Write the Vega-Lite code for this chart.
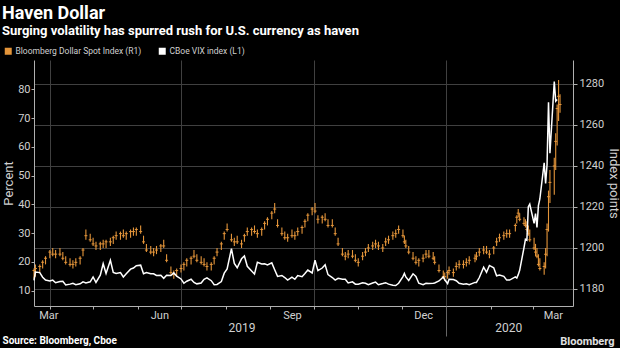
{
  "$schema": "https://vega.github.io/schema/vega-lite/v6.json",
  "width": 539,
  "height": 246,
  "autosize": "none",
  "padding": {"left": 34, "top": 60, "right": 47, "bottom": 42},
  "background": "#000000",
  "config": {
    "view": {"stroke": null},
    "font": "Roboto",
    "axis": {
      "labelFont": "Roboto",
      "titleFont": "Roboto",
      "labelColor": "#d0d0d0",
      "titleColor": "#d0d0d0",
      "domainColor": "#b0b0b0",
      "tickColor": "#b0b0b0",
      "gridColor": "#404040",
      "labelFlush": false,
      "labelOverlap": false,
      "labelFontSize": 11
    }
  },
  "title": {
    "text": "Haven Dollar",
    "subtitle": "Surging volatility has spurred rush for U.S. currency as haven",
    "anchor": "start",
    "frame": "group",
    "dx": -32,
    "offset": 9,
    "font": "Roboto",
    "fontSize": 18,
    "fontWeight": "bold",
    "color": "#ffffff",
    "subtitleFont": "Roboto",
    "subtitleFontSize": 13,
    "subtitleFontWeight": "bold",
    "subtitleColor": "#ffffff",
    "subtitlePadding": 2
  },
  "data": {
    "values": [
      {"d": "2019-03-21", "lo": 1185, "hi": 1190, "c": 1189, "v": 13.6},
      {"d": "2019-03-22", "lo": 1186, "hi": 1192, "c": 1190, "v": 16.5},
      {"d": "2019-03-25", "lo": 1188, "hi": 1192, "c": 1191, "v": 16.3},
      {"d": "2019-03-27", "lo": 1190, "hi": 1194, "c": 1193, "v": 14.7},
      {"d": "2019-03-29", "lo": 1192, "hi": 1196, "c": 1195, "v": 13.7},
      {"d": "2019-04-01", "lo": 1195, "hi": 1199, "c": 1198, "v": 13.4},
      {"d": "2019-04-03", "lo": 1196, "hi": 1200, "c": 1197, "v": 13.7},
      {"d": "2019-04-05", "lo": 1195, "hi": 1199, "c": 1197, "v": 12.8},
      {"d": "2019-04-08", "lo": 1196, "hi": 1200, "c": 1197, "v": 13.2},
      {"d": "2019-04-10", "lo": 1194, "hi": 1198, "c": 1195, "v": 13.3},
      {"d": "2019-04-12", "lo": 1192, "hi": 1196, "c": 1193, "v": 12.0},
      {"d": "2019-04-15", "lo": 1191, "hi": 1195, "c": 1192, "v": 12.3},
      {"d": "2019-04-17", "lo": 1190, "hi": 1194, "c": 1192, "v": 12.6},
      {"d": "2019-04-19", "lo": 1191, "hi": 1195, "c": 1193, "v": 12.1},
      {"d": "2019-04-22", "lo": 1192, "hi": 1196, "c": 1195, "v": 12.4},
      {"d": "2019-04-24", "lo": 1196, "hi": 1200, "c": 1199, "v": 13.1},
      {"d": "2019-04-26", "lo": 1204, "hi": 1209, "c": 1206, "v": 12.7},
      {"d": "2019-04-29", "lo": 1203, "hi": 1207, "c": 1204, "v": 13.1},
      {"d": "2019-05-01", "lo": 1201, "hi": 1205, "c": 1202, "v": 14.8},
      {"d": "2019-05-03", "lo": 1199, "hi": 1203, "c": 1201, "v": 12.9},
      {"d": "2019-05-06", "lo": 1199, "hi": 1203, "c": 1202, "v": 15.4},
      {"d": "2019-05-08", "lo": 1200, "hi": 1204, "c": 1202, "v": 19.4},
      {"d": "2019-05-10", "lo": 1200, "hi": 1204, "c": 1203, "v": 16.0},
      {"d": "2019-05-13", "lo": 1201, "hi": 1205, "c": 1203, "v": 20.6},
      {"d": "2019-05-15", "lo": 1202, "hi": 1206, "c": 1205, "v": 16.4},
      {"d": "2019-05-17", "lo": 1204, "hi": 1208, "c": 1206, "v": 16.0},
      {"d": "2019-05-20", "lo": 1204, "hi": 1208, "c": 1207, "v": 16.3},
      {"d": "2019-05-22", "lo": 1205, "hi": 1209, "c": 1206, "v": 14.8},
      {"d": "2019-05-24", "lo": 1204, "hi": 1208, "c": 1207, "v": 15.9},
      {"d": "2019-05-27", "lo": 1205, "hi": 1209, "c": 1208, "v": 17.5},
      {"d": "2019-05-29", "lo": 1206, "hi": 1210, "c": 1208, "v": 17.9},
      {"d": "2019-05-31", "lo": 1206, "hi": 1210, "c": 1209, "v": 18.7},
      {"d": "2019-06-03", "lo": 1207, "hi": 1211, "c": 1208, "v": 18.9},
      {"d": "2019-06-05", "lo": 1202, "hi": 1206, "c": 1203, "v": 15.9},
      {"d": "2019-06-07", "lo": 1198, "hi": 1202, "c": 1199, "v": 16.3},
      {"d": "2019-06-10", "lo": 1197, "hi": 1201, "c": 1198, "v": 15.9},
      {"d": "2019-06-12", "lo": 1196, "hi": 1200, "c": 1198, "v": 15.9},
      {"d": "2019-06-14", "lo": 1197, "hi": 1201, "c": 1199, "v": 15.3},
      {"d": "2019-06-17", "lo": 1198, "hi": 1202, "c": 1201, "v": 15.4},
      {"d": "2019-06-19", "lo": 1200, "hi": 1204, "c": 1201, "v": 14.3},
      {"d": "2019-06-21", "lo": 1193, "hi": 1197, "c": 1194, "v": 15.4},
      {"d": "2019-06-24", "lo": 1187, "hi": 1191, "c": 1188, "v": 15.3},
      {"d": "2019-06-26", "lo": 1185, "hi": 1189, "c": 1187, "v": 16.2},
      {"d": "2019-06-28", "lo": 1186, "hi": 1190, "c": 1189, "v": 15.1},
      {"d": "2019-07-01", "lo": 1188, "hi": 1192, "c": 1190, "v": 14.1},
      {"d": "2019-07-03", "lo": 1189, "hi": 1193, "c": 1192, "v": 12.6},
      {"d": "2019-07-05", "lo": 1191, "hi": 1195, "c": 1194, "v": 13.3},
      {"d": "2019-07-08", "lo": 1192, "hi": 1196, "c": 1195, "v": 14.0},
      {"d": "2019-07-10", "lo": 1195, "hi": 1199, "c": 1196, "v": 12.9},
      {"d": "2019-07-12", "lo": 1193, "hi": 1197, "c": 1194, "v": 12.4},
      {"d": "2019-07-15", "lo": 1192, "hi": 1196, "c": 1193, "v": 12.7},
      {"d": "2019-07-17", "lo": 1191, "hi": 1195, "c": 1192, "v": 14.0},
      {"d": "2019-07-19", "lo": 1189, "hi": 1193, "c": 1191, "v": 14.5},
      {"d": "2019-07-22", "lo": 1189, "hi": 1193, "c": 1192, "v": 13.5},
      {"d": "2019-07-24", "lo": 1192, "hi": 1196, "c": 1195, "v": 12.1},
      {"d": "2019-07-26", "lo": 1196, "hi": 1200, "c": 1198, "v": 12.2},
      {"d": "2019-07-29", "lo": 1199, "hi": 1203, "c": 1202, "v": 13.2},
      {"d": "2019-07-31", "lo": 1204, "hi": 1208, "c": 1207, "v": 16.1},
      {"d": "2019-08-02", "lo": 1208, "hi": 1212, "c": 1209, "v": 17.6},
      {"d": "2019-08-05", "lo": 1203, "hi": 1207, "c": 1204, "v": 24.6},
      {"d": "2019-08-07", "lo": 1201, "hi": 1205, "c": 1203, "v": 19.5},
      {"d": "2019-08-09", "lo": 1202, "hi": 1206, "c": 1203, "v": 18.0},
      {"d": "2019-08-12", "lo": 1200, "hi": 1204, "c": 1202, "v": 21.1},
      {"d": "2019-08-14", "lo": 1203, "hi": 1207, "c": 1206, "v": 22.1},
      {"d": "2019-08-16", "lo": 1206, "hi": 1210, "c": 1208, "v": 18.5},
      {"d": "2019-08-19", "lo": 1206, "hi": 1210, "c": 1209, "v": 16.9},
      {"d": "2019-08-21", "lo": 1207, "hi": 1211, "c": 1208, "v": 15.8},
      {"d": "2019-08-23", "lo": 1205, "hi": 1209, "c": 1207, "v": 19.9},
      {"d": "2019-08-26", "lo": 1206, "hi": 1210, "c": 1209, "v": 19.3},
      {"d": "2019-08-28", "lo": 1209, "hi": 1213, "c": 1212, "v": 19.4},
      {"d": "2019-08-30", "lo": 1211, "hi": 1215, "c": 1214, "v": 19.0},
      {"d": "2019-09-02", "lo": 1214, "hi": 1218, "c": 1217, "v": 19.7},
      {"d": "2019-09-04", "lo": 1217, "hi": 1222, "c": 1219, "v": 17.3},
      {"d": "2019-09-06", "lo": 1210, "hi": 1214, "c": 1211, "v": 15.0},
      {"d": "2019-09-09", "lo": 1206, "hi": 1210, "c": 1207, "v": 15.3},
      {"d": "2019-09-11", "lo": 1204, "hi": 1208, "c": 1205, "v": 14.6},
      {"d": "2019-09-13", "lo": 1203, "hi": 1207, "c": 1205, "v": 13.7},
      {"d": "2019-09-16", "lo": 1205, "hi": 1209, "c": 1206, "v": 14.7},
      {"d": "2019-09-18", "lo": 1204, "hi": 1208, "c": 1206, "v": 14.0},
      {"d": "2019-09-20", "lo": 1206, "hi": 1210, "c": 1208, "v": 15.3},
      {"d": "2019-09-23", "lo": 1207, "hi": 1211, "c": 1210, "v": 14.9},
      {"d": "2019-09-25", "lo": 1210, "hi": 1214, "c": 1213, "v": 16.0},
      {"d": "2019-09-27", "lo": 1213, "hi": 1217, "c": 1216, "v": 17.2},
      {"d": "2019-09-30", "lo": 1216, "hi": 1220, "c": 1219, "v": 16.2},
      {"d": "2019-10-02", "lo": 1217, "hi": 1222, "c": 1218, "v": 20.6},
      {"d": "2019-10-04", "lo": 1212, "hi": 1216, "c": 1214, "v": 17.0},
      {"d": "2019-10-07", "lo": 1212, "hi": 1216, "c": 1215, "v": 17.9},
      {"d": "2019-10-09", "lo": 1213, "hi": 1217, "c": 1214, "v": 19.0},
      {"d": "2019-10-11", "lo": 1210, "hi": 1214, "c": 1211, "v": 15.6},
      {"d": "2019-10-14", "lo": 1210, "hi": 1214, "c": 1211, "v": 14.6},
      {"d": "2019-10-16", "lo": 1206, "hi": 1210, "c": 1207, "v": 13.7},
      {"d": "2019-10-18", "lo": 1201, "hi": 1205, "c": 1202, "v": 14.3},
      {"d": "2019-10-21", "lo": 1196, "hi": 1200, "c": 1197, "v": 14.0},
      {"d": "2019-10-23", "lo": 1194, "hi": 1198, "c": 1196, "v": 14.0},
      {"d": "2019-10-25", "lo": 1195, "hi": 1199, "c": 1197, "v": 12.7},
      {"d": "2019-10-28", "lo": 1195, "hi": 1199, "c": 1196, "v": 13.1},
      {"d": "2019-10-30", "lo": 1193, "hi": 1197, "c": 1194, "v": 12.3},
      {"d": "2019-11-01", "lo": 1191, "hi": 1195, "c": 1193, "v": 12.3},
      {"d": "2019-11-04", "lo": 1194, "hi": 1198, "c": 1196, "v": 12.8},
      {"d": "2019-11-06", "lo": 1196, "hi": 1200, "c": 1198, "v": 12.6},
      {"d": "2019-11-08", "lo": 1198, "hi": 1202, "c": 1200, "v": 12.1},
      {"d": "2019-11-11", "lo": 1199, "hi": 1203, "c": 1201, "v": 12.7},
      {"d": "2019-11-13", "lo": 1200, "hi": 1204, "c": 1202, "v": 13.0},
      {"d": "2019-11-15", "lo": 1199, "hi": 1203, "c": 1201, "v": 12.1},
      {"d": "2019-11-18", "lo": 1198, "hi": 1202, "c": 1200, "v": 12.5},
      {"d": "2019-11-20", "lo": 1201, "hi": 1205, "c": 1203, "v": 12.8},
      {"d": "2019-11-22", "lo": 1202, "hi": 1206, "c": 1204, "v": 12.3},
      {"d": "2019-11-25", "lo": 1204, "hi": 1208, "c": 1206, "v": 11.9},
      {"d": "2019-11-27", "lo": 1205, "hi": 1209, "c": 1207, "v": 11.8},
      {"d": "2019-11-29", "lo": 1207, "hi": 1211, "c": 1209, "v": 12.6},
      {"d": "2019-12-02", "lo": 1205, "hi": 1209, "c": 1206, "v": 14.9},
      {"d": "2019-12-03", "lo": 1202, "hi": 1206, "c": 1203, "v": 16.0},
      {"d": "2019-12-04", "lo": 1200, "hi": 1204, "c": 1201, "v": 14.8},
      {"d": "2019-12-06", "lo": 1197, "hi": 1201, "c": 1198, "v": 13.6},
      {"d": "2019-12-09", "lo": 1194, "hi": 1198, "c": 1195, "v": 15.9},
      {"d": "2019-12-11", "lo": 1192, "hi": 1196, "c": 1193, "v": 15.0},
      {"d": "2019-12-13", "lo": 1191, "hi": 1195, "c": 1194, "v": 12.6},
      {"d": "2019-12-16", "lo": 1193, "hi": 1197, "c": 1195, "v": 12.1},
      {"d": "2019-12-18", "lo": 1195, "hi": 1199, "c": 1197, "v": 12.6},
      {"d": "2019-12-20", "lo": 1195, "hi": 1199, "c": 1196, "v": 12.5},
      {"d": "2019-12-23", "lo": 1194, "hi": 1198, "c": 1195, "v": 12.6},
      {"d": "2019-12-24", "lo": 1192, "hi": 1196, "c": 1193, "v": 12.7},
      {"d": "2019-12-27", "lo": 1188, "hi": 1192, "c": 1189, "v": 13.4},
      {"d": "2019-12-30", "lo": 1185, "hi": 1189, "c": 1186, "v": 14.8},
      {"d": "2019-12-31", "lo": 1184, "hi": 1188, "c": 1186, "v": 13.8},
      {"d": "2020-01-02", "lo": 1185, "hi": 1189, "c": 1188, "v": 12.5},
      {"d": "2020-01-03", "lo": 1187, "hi": 1191, "c": 1189, "v": 14.0},
      {"d": "2020-01-06", "lo": 1186, "hi": 1190, "c": 1188, "v": 13.9},
      {"d": "2020-01-08", "lo": 1189, "hi": 1193, "c": 1191, "v": 13.5},
      {"d": "2020-01-10", "lo": 1190, "hi": 1194, "c": 1192, "v": 12.6},
      {"d": "2020-01-13", "lo": 1190, "hi": 1194, "c": 1192, "v": 12.3},
      {"d": "2020-01-15", "lo": 1191, "hi": 1195, "c": 1193, "v": 12.4},
      {"d": "2020-01-17", "lo": 1192, "hi": 1196, "c": 1194, "v": 12.1},
      {"d": "2020-01-21", "lo": 1193, "hi": 1197, "c": 1195, "v": 12.9},
      {"d": "2020-01-22", "lo": 1194, "hi": 1198, "c": 1196, "v": 12.9},
      {"d": "2020-01-24", "lo": 1196, "hi": 1200, "c": 1198, "v": 14.6},
      {"d": "2020-01-27", "lo": 1197, "hi": 1201, "c": 1199, "v": 18.2},
      {"d": "2020-01-29", "lo": 1197, "hi": 1201, "c": 1198, "v": 16.4},
      {"d": "2020-01-31", "lo": 1195, "hi": 1199, "c": 1197, "v": 18.8},
      {"d": "2020-02-03", "lo": 1197, "hi": 1201, "c": 1200, "v": 18.0},
      {"d": "2020-02-05", "lo": 1201, "hi": 1205, "c": 1203, "v": 15.2},
      {"d": "2020-02-07", "lo": 1203, "hi": 1207, "c": 1205, "v": 15.5},
      {"d": "2020-02-10", "lo": 1204, "hi": 1208, "c": 1206, "v": 15.0},
      {"d": "2020-02-12", "lo": 1205, "hi": 1209, "c": 1207, "v": 13.7},
      {"d": "2020-02-14", "lo": 1205, "hi": 1209, "c": 1207, "v": 13.7},
      {"d": "2020-02-18", "lo": 1208, "hi": 1212, "c": 1211, "v": 14.8},
      {"d": "2020-02-19", "lo": 1212, "hi": 1216, "c": 1215, "v": 14.4},
      {"d": "2020-02-20", "lo": 1215, "hi": 1219, "c": 1217, "v": 15.6},
      {"d": "2020-02-21", "lo": 1213, "hi": 1217, "c": 1214, "v": 17.1},
      {"d": "2020-02-24", "lo": 1211, "hi": 1215, "c": 1212, "v": 25.0},
      {"d": "2020-02-25", "lo": 1210, "hi": 1214, "c": 1211, "v": 27.9},
      {"d": "2020-02-26", "lo": 1208, "hi": 1213, "c": 1209, "v": 27.6},
      {"d": "2020-02-27", "lo": 1206, "hi": 1211, "c": 1207, "v": 39.2},
      {"d": "2020-02-28", "lo": 1203, "hi": 1209, "c": 1204, "v": 40.1},
      {"d": "2020-03-02", "lo": 1199, "hi": 1205, "c": 1200, "v": 33.4},
      {"d": "2020-03-03", "lo": 1196, "hi": 1202, "c": 1198, "v": 36.8},
      {"d": "2020-03-04", "lo": 1195, "hi": 1200, "c": 1196, "v": 32.0},
      {"d": "2020-03-05", "lo": 1191, "hi": 1197, "c": 1192, "v": 39.6},
      {"d": "2020-03-06", "lo": 1189, "hi": 1195, "c": 1190, "v": 41.9},
      {"d": "2020-03-09", "lo": 1187, "hi": 1193, "c": 1191, "v": 54.5},
      {"d": "2020-03-10", "lo": 1190, "hi": 1200, "c": 1197, "v": 47.3},
      {"d": "2020-03-11", "lo": 1196, "hi": 1212, "c": 1209, "v": 53.9},
      {"d": "2020-03-12", "lo": 1208, "hi": 1228, "c": 1225, "v": 75.5},
      {"d": "2020-03-13", "lo": 1222, "hi": 1238, "c": 1232, "v": 57.8},
      {"d": "2020-03-16", "lo": 1226, "hi": 1244, "c": 1240, "v": 82.7},
      {"d": "2020-03-17", "lo": 1238, "hi": 1256, "c": 1252, "v": 75.9},
      {"d": "2020-03-18", "lo": 1250, "hi": 1270, "c": 1268, "v": 76.5},
      {"d": "2020-03-19", "lo": 1262, "hi": 1282, "c": 1274, "v": null},
      {"d": "2020-03-20", "lo": 1266, "hi": 1275, "c": 1270, "v": null}
    ]
  },
  "layer": [
    {
      "layer": [
        {
          "mark": {"type": "rule", "strokeWidth": 1.1},
          "encoding": {
            "x": {
              "field": "d",
              "type": "temporal",
              "scale": {
                "type": "utc",
                "domain": [
                  {"year": 2019, "month": 3, "date": 21, "utc": true},
                  {"year": 2020, "month": 3, "date": 29, "utc": true}
                ]
              },
              "axis": {
                "orient": "bottom",
                "title": null,
                "labels": false,
                "grid": false,
                "ticks": true,
                "tickSize": 3,
                "domain": true,
                "values": [
                  {"year": 2019, "month": 4, "date": 1, "utc": true},
                  {"year": 2019, "month": 5, "date": 1, "utc": true},
                  {"year": 2019, "month": 6, "date": 1, "utc": true},
                  {"year": 2019, "month": 7, "date": 1, "utc": true},
                  {"year": 2019, "month": 8, "date": 1, "utc": true},
                  {"year": 2019, "month": 9, "date": 1, "utc": true},
                  {"year": 2019, "month": 10, "date": 1, "utc": true},
                  {"year": 2019, "month": 11, "date": 1, "utc": true},
                  {"year": 2019, "month": 12, "date": 1, "utc": true},
                  {"year": 2020, "month": 1, "date": 1, "utc": true},
                  {"year": 2020, "month": 2, "date": 1, "utc": true},
                  {"year": 2020, "month": 3, "date": 1, "utc": true}
                ]
              }
            },
            "y": {
              "field": "lo",
              "type": "quantitative",
              "title": "Index points",
              "scale": {"domain": [1171.7, 1291.7], "nice": false, "zero": false},
              "axis": {
                "orient": "right",
                "values": [1180, 1200, 1220, 1240, 1260, 1280],
                "format": "d",
                "grid": true,
                "tickSize": 4,
                "labelPadding": 2,
                "title": "Index points",
                "titleAngle": 90,
                "titleX": 40,
                "titleY": 123,
                "titleAlign": "center",
                "titleBaseline": "middle",
                "titleFontSize": 13,
                "titleFontWeight": "normal"
              }
            },
            "y2": {"field": "hi"},
            "color": {
              "datum": "Bloomberg Dollar Spot Index (R1)",
              "type": "nominal",
              "scale": {
                "domain": ["Bloomberg Dollar Spot Index (R1)", "CBoe VIX index (L1)"],
                "range": ["#e4953a", "#ffffff"]
              },
              "legend": {
                "orient": "none",
                "legendX": -30,
                "legendY": -13,
                "direction": "horizontal",
                "title": null,
                "symbolType": "square",
                "symbolSize": 30,
                "labelColor": "#d0d0d0",
                "labelFont": "Roboto",
                "labelFontSize": 8.5,
                "labelOffset": 3,
                "columnPadding": 14,
                "padding": 0,
                "encode": {
                  "symbols": {
                    "update": {
                      "fill": {"scale": "color", "field": "value"},
                      "stroke": {"value": "transparent"},
                      "shape": {"value": "square"}
                    }
                  }
                }
              }
            }
          }
        },
        {
          "mark": {"type": "tick", "orient": "horizontal", "size": 3, "thickness": 1, "color": "#e4953a", "opacity": 1},
          "encoding": {
            "x": {"field": "d", "type": "temporal", "title": null},
            "y": {"field": "c", "type": "quantitative", "title": "Index points"}
          }
        }
      ]
    },
    {
      "transform": [{"filter": "isValid(datum.v)"}],
      "mark": {"type": "line", "strokeWidth": 1.5},
      "encoding": {
        "x": {
          "field": "d",
          "type": "temporal",
          "axis": {
            "orient": "bottom",
            "title": null,
            "ticks": false,
            "domain": false,
            "grid": false,
            "labelPadding": 3,
            "labelExpr": "utcFormat(datum.value, '%b')",
            "values": [
              {"year": 2019, "month": 3, "date": 31, "utc": true},
              {"year": 2019, "month": 6, "date": 16, "utc": true},
              {"year": 2019, "month": 9, "date": 16, "utc": true},
              {"year": 2019, "month": 12, "date": 16, "utc": true},
              {"year": 2020, "month": 3, "date": 15, "utc": true}
            ]
          }
        },
        "y": {
          "field": "v",
          "type": "quantitative",
          "scale": {"domain": [4.7, 90.2], "nice": false, "zero": false},
          "axis": {
            "orient": "left",
            "values": [10, 20, 30, 40, 50, 60, 70, 80],
            "grid": false,
            "tickSize": 3,
            "labelPadding": 1,
            "title": "Percent",
            "titleAngle": -90,
            "titleX": -26,
            "titleY": 123,
            "titleAlign": "center",
            "titleBaseline": "middle",
            "titleFontSize": 13,
            "titleFontWeight": "normal"
          }
        },
        "color": {"datum": "CBoe VIX index (L1)", "type": "nominal"}
      }
    },
    {
      "mark": {"type": "point", "opacity": 0},
      "encoding": {
        "x": {
          "field": "d",
          "type": "temporal",
          "axis": {
            "orient": "bottom",
            "title": null,
            "ticks": false,
            "domain": false,
            "grid": false,
            "labelPadding": 16,
            "labelFontSize": 12,
            "labelExpr": "utcFormat(datum.value, '%Y')",
            "values": [
              {"year": 2019, "month": 8, "date": 12, "utc": true},
              {"year": 2020, "month": 2, "date": 13, "utc": true}
            ]
          }
        }
      }
    },
    {
      "mark": {"type": "point", "opacity": 0},
      "encoding": {
        "x": {
          "field": "d",
          "type": "temporal",
          "axis": {
            "orient": "bottom",
            "labels": false,
            "domain": false,
            "grid": false,
            "ticks": true,
            "tickSize": 30,
            "tickColor": "#666666",
            "values": [{"year": 2020, "month": 1, "date": 1, "utc": true}],
            "title": "Source: Bloomberg, Cboe",
            "titleX": -32,
            "titleY": 37,
            "titleAlign": "left",
            "titleAnchor": "start",
            "titleBaseline": "alphabetic",
            "titleFontSize": 10,
            "titleFontWeight": "bold",
            "titleColor": "#ffffff"
          }
        }
      }
    },
    {
      "mark": {"type": "point", "opacity": 0},
      "encoding": {
        "x": {
          "field": "d",
          "type": "temporal",
          "axis": {
            "orient": "bottom",
            "labels": false,
            "domain": false,
            "ticks": false,
            "grid": true,
            "values": [
              {"year": 2019, "month": 4, "date": 1, "utc": true},
              {"year": 2019, "month": 7, "date": 1, "utc": true},
              {"year": 2019, "month": 10, "date": 1, "utc": true},
              {"year": 2020, "month": 1, "date": 1, "utc": true}
            ],
            "title": "Bloomberg",
            "titleX": 580,
            "titleY": 38,
            "titleAlign": "right",
            "titleAnchor": "end",
            "titleBaseline": "alphabetic",
            "titleFontSize": 11,
            "titleFontWeight": "bold",
            "titleColor": "#e0e0e0"
          }
        }
      }
    }
  ],
  "resolve": {"scale": {"y": "independent"}, "axis": {"x": "independent"}}
}
